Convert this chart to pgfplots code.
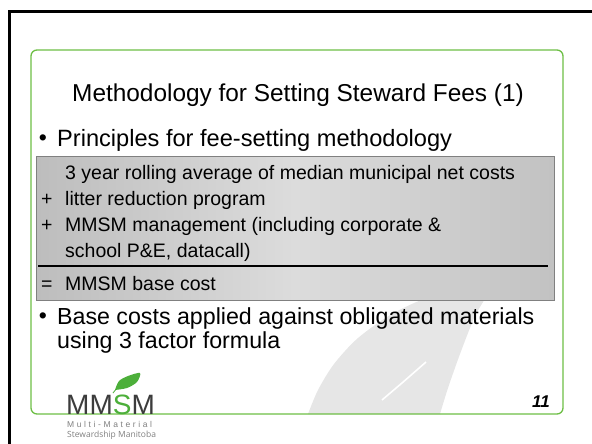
\documentclass[border=0pt]{standalone}
\usepackage{pgfplots}
\pgfplotsset{compat=1.18}
\usepackage{fontspec}
\setmainfont{Liberation Sans}
\newfontfamily\opensans{Open Sans}
\definecolor{frameg}{HTML}{6DBE45}
\definecolor{leafw}{HTML}{E6E6E6}
\definecolor{logogray}{HTML}{3C3C3C}
\definecolor{logogreen}{HTML}{4CAF3A}
\definecolor{boxL}{HTML}{BDBDBD}
\definecolor{boxM}{HTML}{DCDCDC}
\definecolor{boxR}{HTML}{C2C2C2}
\newcommand{\fs}[1]{\fontsize{#1bp}{#1bp}\selectfont}
\begin{document}
\begin{tikzpicture}
\useasboundingbox (0,0) rectangle (592bp,444bp);
\begin{axis}[scale only axis, width=592bp, height=444bp,
  xmin=0, xmax=592, ymin=0, ymax=444, y dir=reverse,
  hide axis, clip=false]
% outer black frame
\addplot[black, line width=3bp, mark=none] coordinates {(9,444) (9,12) (592,12)};
% watermark leaf
\addplot[fill=leafw, draw=none, smooth, mark=none] coordinates {
 (308,414) (318,390) (334,364) (358,338) (392,314) (432,296) (490,282)
 (474,318) (460,354) (448,388) (440,414)} -- cycle;
\addplot[white, line width=1.6bp, mark=none] coordinates {(382,400) (402,383) (426,362)};
% green rounded box
\addplot[draw=frameg, line width=1.3bp, rounded corners=6bp, mark=none]
  coordinates {(31,50) (563,50) (563,414) (31,414)} -- cycle;
% title
\node[anchor=base, inner sep=0, font=\fs{24.4}] at (axis cs:298,101) {Methodology for Setting Steward Fees (1)};
% bullet 1
\node[anchor=base, inner sep=0, font=\fs{23}] at (axis cs:43,145) {\textbullet};
\node[anchor=base west, inner sep=0, font=\fs{23.6}] at (axis cs:57,146) {Principles for fee-setting methodology};
% gray box
\addplot[draw=gray, line width=0.8bp, left color=boxL, right color=boxR, middle color=boxM, mark=none]
  coordinates {(36,156) (554,156) (554,300) (36,300)} -- cycle;
\node[anchor=base west, inner sep=0, font=\fs{19.5}] at (axis cs:65,179) {3 year rolling average of median municipal net costs};
\node[anchor=base west, inner sep=0, font=\fs{19.5}] at (axis cs:41,205) {+};
\node[anchor=base west, inner sep=0, font=\fs{19.5}] at (axis cs:65,205) {litter reduction program};
\node[anchor=base west, inner sep=0, font=\fs{19.5}] at (axis cs:41,231) {+};
\node[anchor=base west, inner sep=0, font=\fs{19.5}] at (axis cs:65,231) {MMSM management (including corporate \&};
\node[anchor=base west, inner sep=0, font=\fs{19.5}] at (axis cs:65,257) {school P\&E, datacall)};
\addplot[black, line width=1.8bp, mark=none] coordinates {(38,266) (548,266)};
\node[anchor=base west, inner sep=0, font=\fs{19.5}] at (axis cs:41,290) {=};
\node[anchor=base west, inner sep=0, font=\fs{19.5}] at (axis cs:65,290) {MMSM base cost};
% bullet 2
\node[anchor=base, inner sep=0, font=\fs{23}] at (axis cs:43,323) {\textbullet};
\node[anchor=base west, inner sep=0, font=\fs{23.2}] at (axis cs:57,324) {Base costs applied against obligated materials};
\node[anchor=base west, inner sep=0, font=\fs{23.2}] at (axis cs:57,348) {using 3 factor formula};
% logo
\addplot[fill=logogreen, draw=none, smooth, mark=none] coordinates {(115,390) (119,381) (128,376) (140,373) (137,382) (127,388) (115,390)} -- cycle;
\addplot[logogreen, line width=0.8bp, mark=none] coordinates {(113,393) (117,388) (124,383)};
\node[anchor=base west, inner sep=0, font=\fs{28}, text=logogray] at (axis cs:66,414) {MM\textcolor{logogreen}{S}M};
\node[anchor=base west, inner sep=0, font=\fs{8.5}, text=gray] at (axis cs:67,427) {M\kern2.6bp u\kern2.6bp l\kern2.6bp t\kern2.6bp i\kern2.6bp -\kern2.6bp M\kern2.6bp a\kern2.6bp t\kern2.6bp e\kern2.6bp r\kern2.6bp i\kern2.6bp a\kern2.6bp l};
\node[anchor=base west, inner sep=0, font=\opensans\fs{8.5}, text=gray] at (axis cs:67,437) {Stewardship Manitoba};
% page number
\node[anchor=base east, inner sep=0, font=\bfseries\itshape\fs{17}] at (axis cs:550,407) {11};
\end{axis}
\end{tikzpicture}
\end{document}
